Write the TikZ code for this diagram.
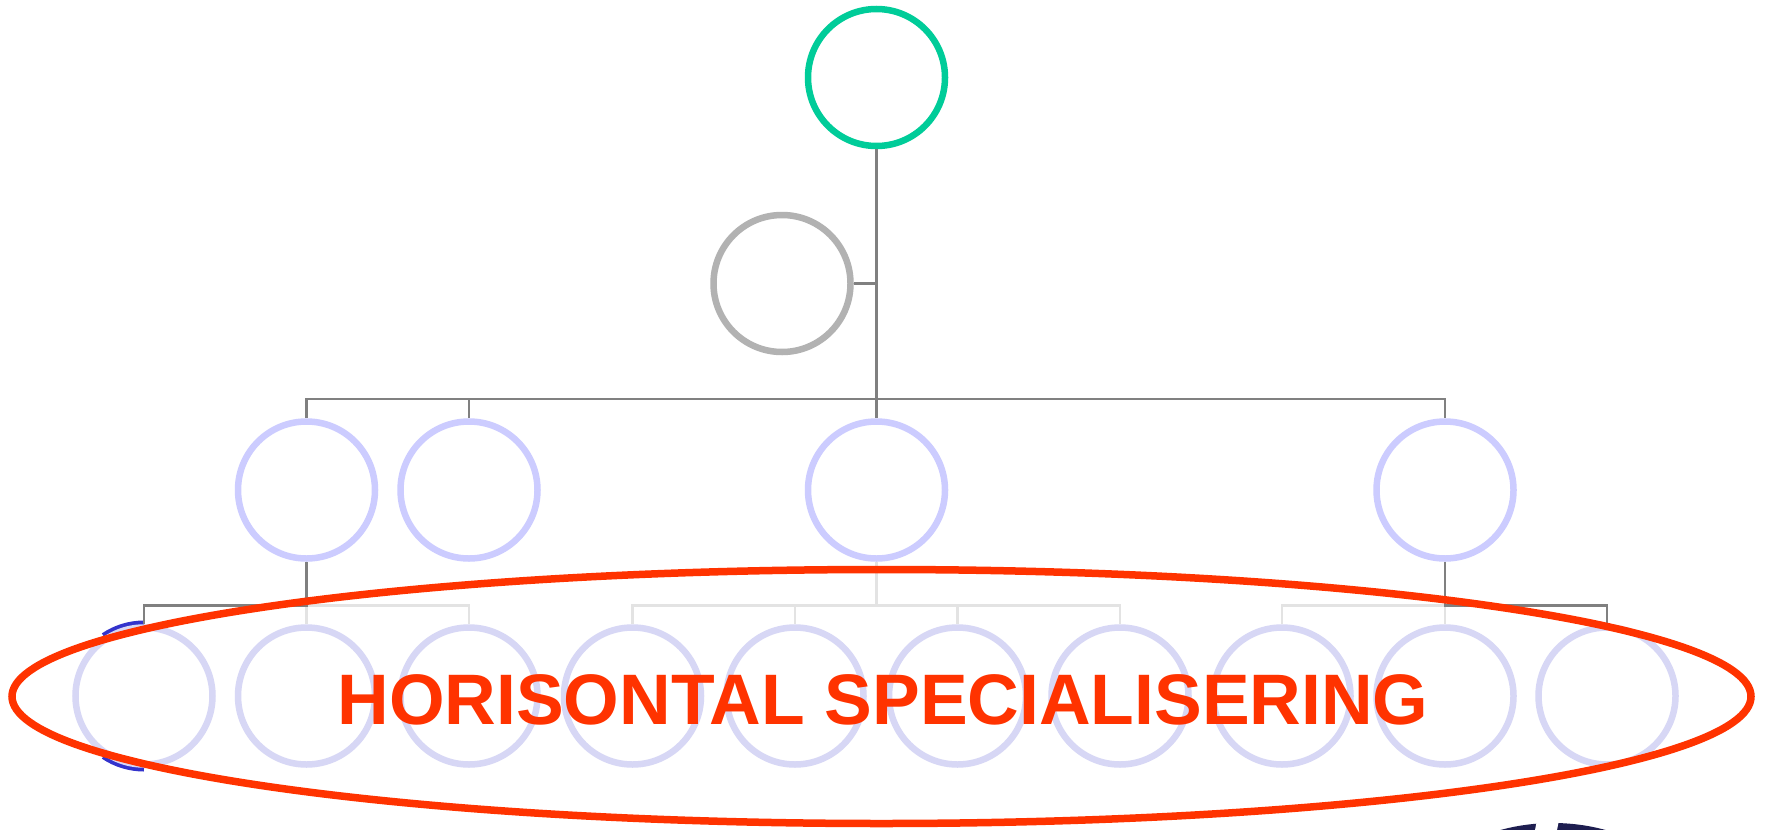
\documentclass[tikz,border=0pt]{standalone}
\usepackage{fontspec}
\setmainfont{Liberation Sans}
\definecolor{topgreen}{HTML}{00CC99}
\definecolor{assistgray}{HTML}{B2B2B2}
\definecolor{midlav}{HTML}{CCCCFF}
\definecolor{lowlav}{HTML}{D7D7F5}
\definecolor{linkdark}{HTML}{808080}
\definecolor{linklight}{HTML}{E3E3E3}
\definecolor{hilite}{HTML}{FF3300}
\definecolor{markblue}{HTML}{3333CC}
\definecolor{navy}{HTML}{1E1E50}
\begin{document}
\begin{tikzpicture}[x=1bp,y=-1bp,
  orgnode/.style={circle,minimum size=137bp,inner sep=0pt,line width=6.5bp},
  topnode/.style={orgnode,draw=topgreen},
  assistnode/.style={orgnode,draw=assistgray},
  midnode/.style={orgnode,draw=midlav},
  lownode/.style={orgnode,draw=lowlav},
  darklink/.style={draw=linkdark,line width=2.2bp},
  lightlink/.style={draw=linklight,line width=2.2bp},
  bandlabel/.style={text=hilite,inner sep=0pt,
    font=\fontsize{71.5bp}{80bp}\selectfont\bfseries}]

\useasboundingbox[fill=white] (0,0) rectangle (1768,830);

% top of the hierarchy and its staff position
\node[topnode] (top) at (876.5,77.5) {};
\node[assistnode] (as) at (782,283.5) {};

% middle level
\node[midnode] (m1) at (306.5,490) {};
\node[midnode] (m2) at (469,490) {};
\node[midnode] (m3) at (876.5,490) {};
\node[midnode] (m4) at (1445,490) {};

% blue mark behind the first unit of the bottom row
\draw[markblue,line width=6bp] (144,696) ++(90:72.5) arc[start angle=90,end angle=124,radius=72.5];
\draw[markblue,line width=6bp] (144,696) ++(236:72.5) arc[start angle=236,end angle=270,radius=72.5];

% bottom level
\foreach \i/\x in {1/144,2/306.5,3/469,4/632.5,5/795,6/957.5,7/1120,8/1282,9/1445,10/1607}
  \node[lownode] (b\i) at (\x,696) {};

% bus lines
\coordinate (busA) at (0,399);
\coordinate (busB) at (0,605.5);

% connectors, upper level
\draw[darklink] (as.east) -- (as.east -| top.south);
\foreach \c in {m1,m2,m3,m4}
  \draw[darklink] (top.south) -- (top.south |- busA) -| (\c.north);

% connectors, lower level
\draw[lightlink] (m1.south |- busB) -| (b2.north);
\draw[lightlink] (m1.south |- busB) -| (b3.north);
\draw[darklink] (m1.south) -- (m1.south |- busB) -| (b1.north);
\foreach \c in {b4,b5,b6,b7}
  \draw[lightlink] (m3.south) -- (m3.south |- busB) -| (\c.north);
\draw[lightlink] (m4.south |- busB) -| (b8.north);
\draw[lightlink] (m4.south |- busB) -- (b9.north);
\draw[darklink] (m4.south) -- (m4.south |- busB) -| (b10.north);

% highlight band around the bottom row
\draw[hilite,line width=7.5bp] (881.5,696.5) ellipse [x radius=869.5,y radius=127];
\node[bandlabel] (label) at (883,700) {HORISONTAL SPECIALISERING};

% edge of a dark emblem at the lower right
\begin{scope}
  \clip (1480,810) rectangle (1630,830);
  \fill[navy] (1553,1023) circle (200);
  \fill[white] (1538,815) -- (1560,815) -- (1557,830) -- (1535,830) -- cycle;
\end{scope}
\end{tikzpicture}
\end{document}
